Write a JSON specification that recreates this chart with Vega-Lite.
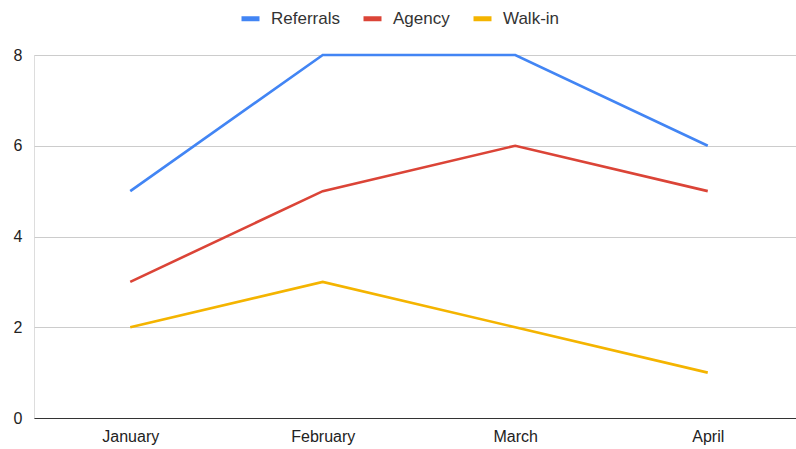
{
  "$schema": "https://vega.github.io/schema/vega-lite/v6.json",
  "width": 770,
  "height": 363,
  "autosize": {"type": "none"},
  "padding": {"left": 34, "top": 55, "right": 0, "bottom": 31},
  "background": "white",
  "data": {
    "values": [
      {"month": "January", "series": "Referrals", "value": 5},
      {"month": "February", "series": "Referrals", "value": 8},
      {"month": "March", "series": "Referrals", "value": 8},
      {"month": "April", "series": "Referrals", "value": 6},
      {"month": "January", "series": "Agency", "value": 3},
      {"month": "February", "series": "Agency", "value": 5},
      {"month": "March", "series": "Agency", "value": 6},
      {"month": "April", "series": "Agency", "value": 5},
      {"month": "January", "series": "Walk-in", "value": 2},
      {"month": "February", "series": "Walk-in", "value": 3},
      {"month": "March", "series": "Walk-in", "value": 2},
      {"month": "April", "series": "Walk-in", "value": 1}
    ]
  },
  "mark": {"type": "line", "strokeWidth": 2.6},
  "encoding": {
    "x": {
      "field": "month",
      "type": "ordinal",
      "sort": ["January", "February", "March", "April"],
      "scale": {"type": "point", "padding": 0.5},
      "axis": {
        "title": null,
        "labelAngle": 0,
        "ticks": false,
        "grid": false,
        "domainColor": "#333333",
        "domainWidth": 1.2,
        "labelPadding": 10,
        "labelFont": "Liberation Sans",
        "labelFontSize": 16,
        "labelColor": "#222222"
      }
    },
    "y": {
      "field": "value",
      "type": "quantitative",
      "scale": {"domain": [0, 8], "nice": false},
      "axis": {
        "title": null,
        "values": [0, 2, 4, 6, 8],
        "ticks": false,
        "domain": false,
        "gridColor": "#cccccc",
        "gridWidth": 1,
        "labelPadding": 12,
        "labelFont": "Liberation Sans",
        "labelFontSize": 16,
        "labelColor": "#222222"
      }
    },
    "color": {
      "field": "series",
      "type": "nominal",
      "sort": ["Referrals", "Agency", "Walk-in"],
      "scale": {
        "domain": ["Referrals", "Agency", "Walk-in"],
        "range": ["#4285F4", "#DB4437", "#F4B400"]
      },
      "legend": {
        "title": null,
        "orient": "none",
        "direction": "horizontal",
        "legendX": 205,
        "legendY": -48,
        "symbolType": "stroke",
        "symbolSize": 324,
        "symbolStrokeWidth": 5,
        "labelFont": "Liberation Sans",
        "labelFontSize": 17,
        "labelColor": "#333333",
        "labelOffset": 9,
        "columnPadding": 13
      }
    }
  }
}
